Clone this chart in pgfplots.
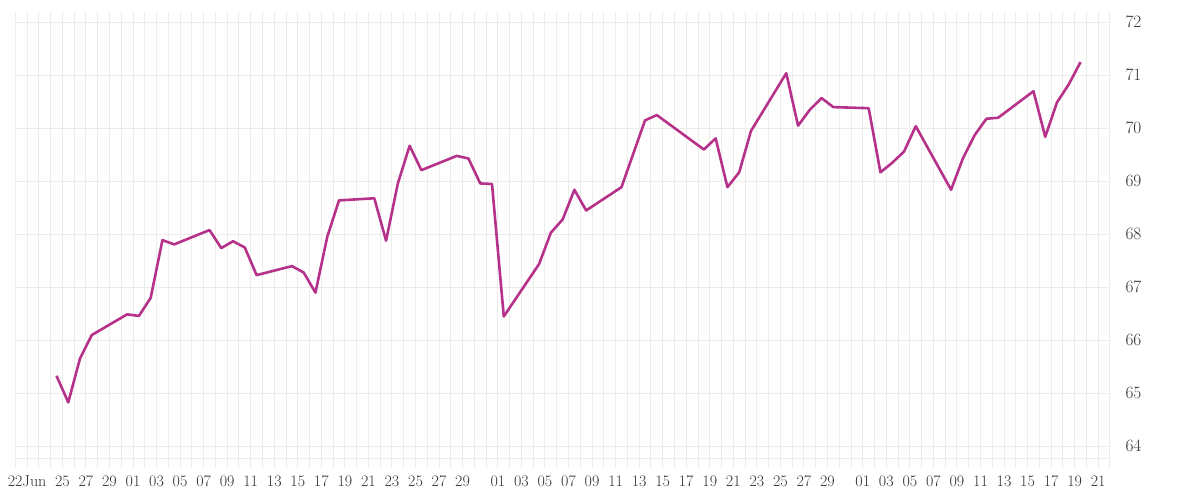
\documentclass[border=0pt]{standalone}
\usepackage{pgfplots}
\pgfplotsset{compat=1.18}
\definecolor{linepurple}{RGB}{182,50,138}
\definecolor{gridgray}{RGB}{236,236,236}
\definecolor{labelgray}{RGB}{50,50,50}

\begin{document}
\begin{tikzpicture}[x=1pt,y=1pt]
\path[use as bounding box] (0,0) rectangle (1200,500);
\begin{axis}[
    at={(15.3pt,32pt)}, anchor=south west,
    scale only axis,
    width=1094.7pt, height=455.7pt,
    xmin=-1, xmax=92,
    ymin=63.591, ymax=72.189,
    axis line style={draw=none},
    major tick length=0pt, minor tick length=0pt,
    xtick={0,3,5,7,9,11,13,15,17,19,21,23,25,27,29,31,33,35,37,40,42,44,46,48,50,52,54,56,58,60,62,64,66,68,71,73,75,77,79,81,83,85,87,89,91},
    xticklabels={22Jun,25,27,29,01,03,05,07,09,11,13,15,17,19,21,23,25,27,29,01,03,05,07,09,11,13,15,17,19,21,23,25,27,29,01,03,05,07,09,11,13,15,17,19,21},
    minor xtick={-1,0,...,92},
    xmajorgrids=false, xminorgrids=true,
    ytick={64,65,66,67,68,69,70,71,72},
    ymajorgrids=true,
    extra y ticks={63.774}, extra y tick labels={},
    extra y tick style={grid=major},
    grid style={gridgray, line width=1pt},
    minor grid style={gridgray, line width=1pt},
    yticklabel pos=right,
    ticklabel style={font=\fontsize{16}{18}\selectfont, text=labelgray},
    yticklabel style={anchor=west, xshift=12pt},
    xticklabel style={yshift=-4pt},
]
\addplot[linepurple, line width=2.6pt, line join=round] coordinates {
(2.5,65.33) (3.5,64.83) (4.5,65.66) (5.5,66.10)
(8.5,66.49) (9.5,66.46) (10.5,66.80) (11.5,67.89) (12.5,67.81)
(15.5,68.08) (16.5,67.74) (17.5,67.87) (18.5,67.75) (19.5,67.23)
(22.5,67.40) (23.5,67.28) (24.5,66.90) (25.5,67.95) (26.5,68.64)
(29.5,68.68) (30.5,67.88) (31.5,68.96) (32.5,69.67) (33.5,69.21)
(36.5,69.48) (37.5,69.43) (38.5,68.96) (39.5,68.95) (40.5,66.45)
(43.5,67.44) (44.5,68.03) (45.5,68.28) (46.5,68.84) (47.5,68.45)
(50.5,68.89) (52.5,70.15) (53.5,70.25)
(57.5,69.60) (58.5,69.81) (59.5,68.89) (60.5,69.17) (61.5,69.95)
(64.5,71.04) (65.5,70.05) (66.5,70.35) (67.5,70.57) (68.5,70.40)
(71.5,70.38) (72.5,69.17) (73.5,69.35) (74.5,69.56) (75.5,70.04)
(78.5,68.84) (79.5,69.43) (80.5,69.87) (81.5,70.18) (82.5,70.20)
(85.5,70.70) (86.5,69.84) (87.5,70.49) (88.5,70.83) (89.5,71.25)
};
\end{axis}
\end{tikzpicture}
\end{document}
